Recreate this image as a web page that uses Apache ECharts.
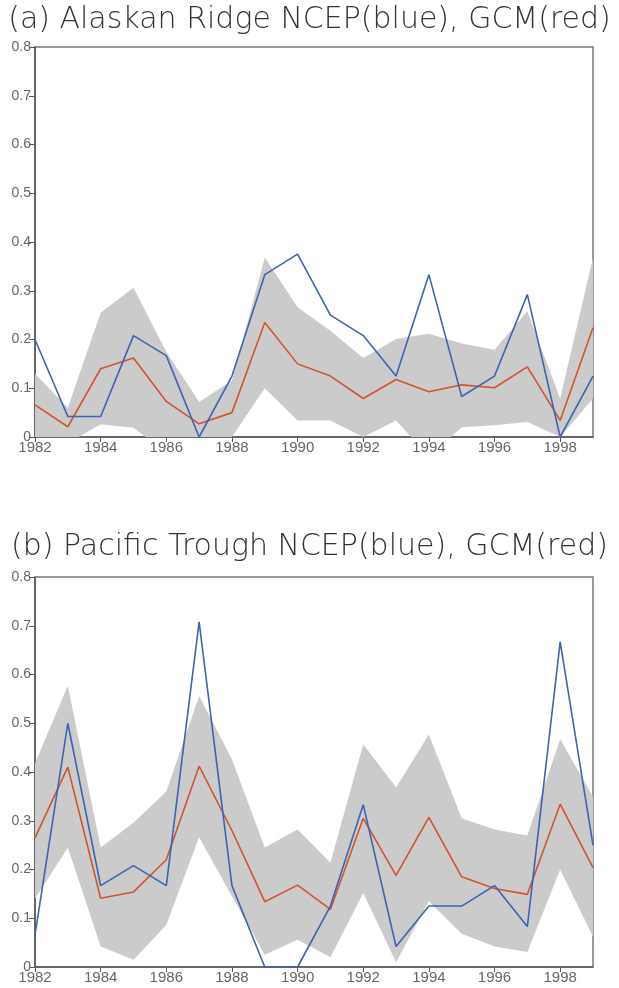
<!DOCTYPE html>
<html><head><meta charset="utf-8">
<script src="https://cdn.jsdelivr.net/npm/echarts@6/dist/echarts.min.js"></script>
<style>html,body{margin:0;padding:0;background:#fff}#c{width:619px;height:988px}</style>
</head><body><div id="c"></div>
<script>
var years = ['1982','1983','1984','1985','1986','1987','1988','1989','1990','1991','1992','1993','1994','1995','1996','1997','1998','1999'];
var yTicks = [0,0.1,0.2,0.3,0.4,0.5,0.6,0.7,0.8];
var titleA = '(a) Alaskan Ridge NCEP(blue), GCM(red)';
var titleB = '(b) Pacific Trough NCEP(blue), GCM(red)';

var aNcep  = [0.200,0.042,0.042,0.208,0.167,0.000,0.125,0.333,0.375,0.250,0.208,0.125,0.333,0.083,0.125,0.292,0.000,0.125];
var aGcm   = [0.066,0.021,0.140,0.162,0.073,0.027,0.050,0.235,0.150,0.125,0.079,0.118,0.093,0.107,0.101,0.144,0.034,0.224];
var aUpper = [0.130,0.060,0.255,0.306,0.175,0.072,0.116,0.368,0.266,0.218,0.162,0.201,0.212,0.192,0.179,0.258,0.079,0.368];
var aLower = [-0.020,-0.013,0.026,0.019,-0.032,-0.030,0.000,0.100,0.034,0.034,0.000,0.034,-0.040,0.020,0.024,0.031,0.000,0.079];

var bNcep  = [0.066,0.500,0.167,0.208,0.167,0.708,0.167,0.000,0.000,0.125,0.333,0.042,0.125,0.125,0.167,0.083,0.667,0.250];
var bGcm   = [0.265,0.410,0.141,0.154,0.220,0.412,0.280,0.134,0.168,0.118,0.305,0.188,0.307,0.185,0.161,0.149,0.334,0.204];
var bUpper = [0.418,0.577,0.245,0.296,0.360,0.556,0.426,0.245,0.282,0.214,0.457,0.368,0.477,0.305,0.282,0.270,0.467,0.349];
var bLower = [0.140,0.245,0.042,0.015,0.086,0.266,0.145,0.025,0.056,0.020,0.152,0.010,0.135,0.068,0.042,0.031,0.200,0.062];

var BLUE = '#3d63b3', RED = '#d4532e', GRAY = '#cbcbcb', AX = '#555';

function diff(u,l){ return u.map(function(v,i){ return +(v-l[i]).toFixed(4); }); }

function xAx(idx){
  return {type:'category', gridIndex:idx, data:years, boundaryGap:false,
    axisLine:{show:true, onZero:false, lineStyle:{color:AX, width:1.5}},
    axisTick:{show:true, length:5, interval:1, lineStyle:{color:AX}},
    splitLine:{show:false},
    axisLabel:{interval:1, color:'#666', fontSize:15, fontFamily:'Liberation Sans', margin:3}};
}
function yAx(idx){
  return {type:'value', gridIndex:idx, min:yTicks[0], max:yTicks[yTicks.length-1], interval:0.1,
    axisLine:{show:true, lineStyle:{color:AX, width:1.5}},
    axisTick:{show:true, length:6, lineStyle:{color:AX}},
    splitLine:{show:false},
    axisLabel:{color:'#666', fontSize:14, fontFamily:'Liberation Sans', margin:4,
      formatter:function(v){ return String(+v.toFixed(1)); }}};
}
function band(idx, up, lo, st){
  return [
    {type:'line', xAxisIndex:idx, yAxisIndex:idx, stack:st, stackStrategy:'all', data:lo,
      symbol:'none', lineStyle:{width:0, opacity:0}, silent:true, z:1},
    {type:'line', xAxisIndex:idx, yAxisIndex:idx, stack:st, stackStrategy:'all', data:diff(up,lo),
      symbol:'none', lineStyle:{width:0, opacity:0}, areaStyle:{color:GRAY, opacity:1}, silent:true, z:1}
  ];
}
function line(idx, v, c){
  return {type:'line', xAxisIndex:idx, yAxisIndex:idx, data:v, symbol:'none',
    lineStyle:{color:c, width:1.6}, z:3};
}

var chart = echarts.init(document.getElementById('c'), null, {renderer:'canvas'});
chart.setOption({
  animation:false,
  backgroundColor:'#fff',
  title:[
    {text:titleA, left:'center', top:0, textStyle:{fontFamily:'DejaVu Sans', fontWeight:200, fontSize:30, color:'#333'}},
    {text:titleB, left:'center', top:527, textStyle:{fontFamily:'DejaVu Sans', fontWeight:200, fontSize:30, color:'#333'}}
  ],
  grid:[
    {left:35, right:26, top:47, height:390, show:true, borderColor:'#777', borderWidth:1.5, backgroundColor:'transparent'},
    {left:35, right:26, top:577, height:390, show:true, borderColor:'#777', borderWidth:1.5, backgroundColor:'transparent'}
  ],
  xAxis:[xAx(0), xAx(1)],
  yAxis:[yAx(0), yAx(1)],
  series: [].concat(
    band(0, aUpper, aLower, 'a'), [line(0, aGcm, RED), line(0, aNcep, BLUE)],
    band(1, bUpper, bLower, 'b'), [line(1, bGcm, RED), line(1, bNcep, BLUE)]
  )
});
</script></body></html>
